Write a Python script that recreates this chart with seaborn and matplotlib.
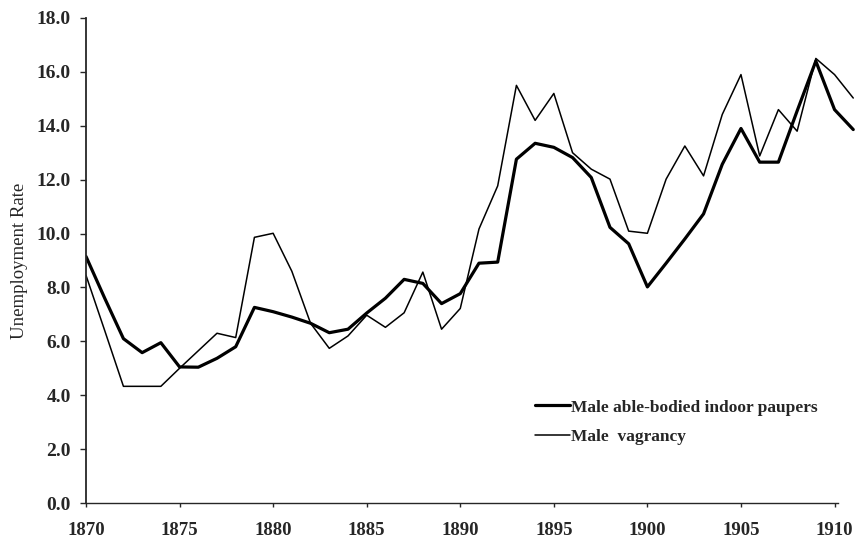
import matplotlib
matplotlib.use("Agg")
import matplotlib.pyplot as plt
import seaborn as sns
import pandas as pd

years = list(range(1870, 1912))
paupers = [9.15, 7.6, 6.1, 5.58, 5.95, 5.05, 5.04, 5.37, 5.8, 7.26,
           7.1, 6.9, 6.67, 6.32, 6.45, 7.05, 7.6, 8.3, 8.15, 7.4,
           7.77, 8.9, 8.94, 12.76, 13.35, 13.2, 12.82, 12.08, 10.23, 9.62,
           8.02, 8.9, 9.8, 10.73, 12.57, 13.9, 12.65, 12.65, 14.55, 16.4,
           14.6, 13.86]
vagrancy = [8.45, 6.4, 4.33, 4.33, 4.33, 5.0, 5.65, 6.3, 6.14, 9.86,
            10.01, 8.6, 6.67, 5.74, 6.2, 6.97, 6.52, 7.06, 8.57, 6.45,
            7.22, 10.17, 11.77, 15.5, 14.2, 15.2, 13.0, 12.39, 12.02, 10.09,
            10.01, 12.02, 13.25, 12.14, 14.42, 15.9, 12.88, 14.6, 13.8, 16.5,
            15.9, 15.03]
label_paupers = "Male able-bodied indoor paupers"
label_vagrancy = "Male  vagrancy"
x_ticks = [1870, 1875, 1880, 1885, 1890, 1895, 1900, 1905, 1910]
y_ticks = [0, 2, 4, 6, 8, 10, 12, 14, 16, 18]

sns.set_style("ticks")
plt.rcParams['font.family'] = ['Liberation Serif', 'DejaVu Serif']

df = pd.DataFrame({"year": years, "paupers": paupers, "vagrancy": vagrancy})

fig = plt.figure(figsize=(8.57, 5.43), dpi=100)
ax = fig.add_axes([86/857, 40/543, 1 - 86/857, 485/543])

sns.lineplot(data=df, x="year", y="paupers", ax=ax, color="black",
             linewidth=2.3, label=label_paupers)
sns.lineplot(data=df, x="year", y="vagrancy", ax=ax, color="black",
             linewidth=1.1, label=label_vagrancy)

ax.set_xlim(1870, 1911.2)
ax.set_ylim(0, 18)
ax.set_xticks(x_ticks)
ax.set_yticks(y_ticks)
ax.set_xticklabels([str(t) for t in x_ticks], fontsize=13.5, fontweight="bold")
ax.set_yticklabels([f"{t:.1f}" for t in y_ticks], fontsize=14, fontweight="bold")
ax.tick_params(axis="x", direction="out", length=3, width=1, pad=11)
ax.tick_params(axis="y", direction="out", length=4, width=1, pad=7)
ax.set_xlabel("")
ax.set_ylabel("Unemployment Rate", fontsize=13.5, labelpad=6)

for s in ["top", "right"]:
    ax.spines[s].set_visible(False)
ax.spines["bottom"].set_bounds(1870, 1910.2)
ax.spines["left"].set_linewidth(1.3)
ax.spines["bottom"].set_linewidth(1.0)

leg = ax.legend(loc="lower left", bbox_to_anchor=(0.562, 0.088), frameon=False,
                prop={"family": "Liberation Serif", "weight": "bold", "size": 12.5},
                handlelength=2.0, handletextpad=0.1, labelspacing=0.75)

fig.savefig("out.png", dpi=100)
